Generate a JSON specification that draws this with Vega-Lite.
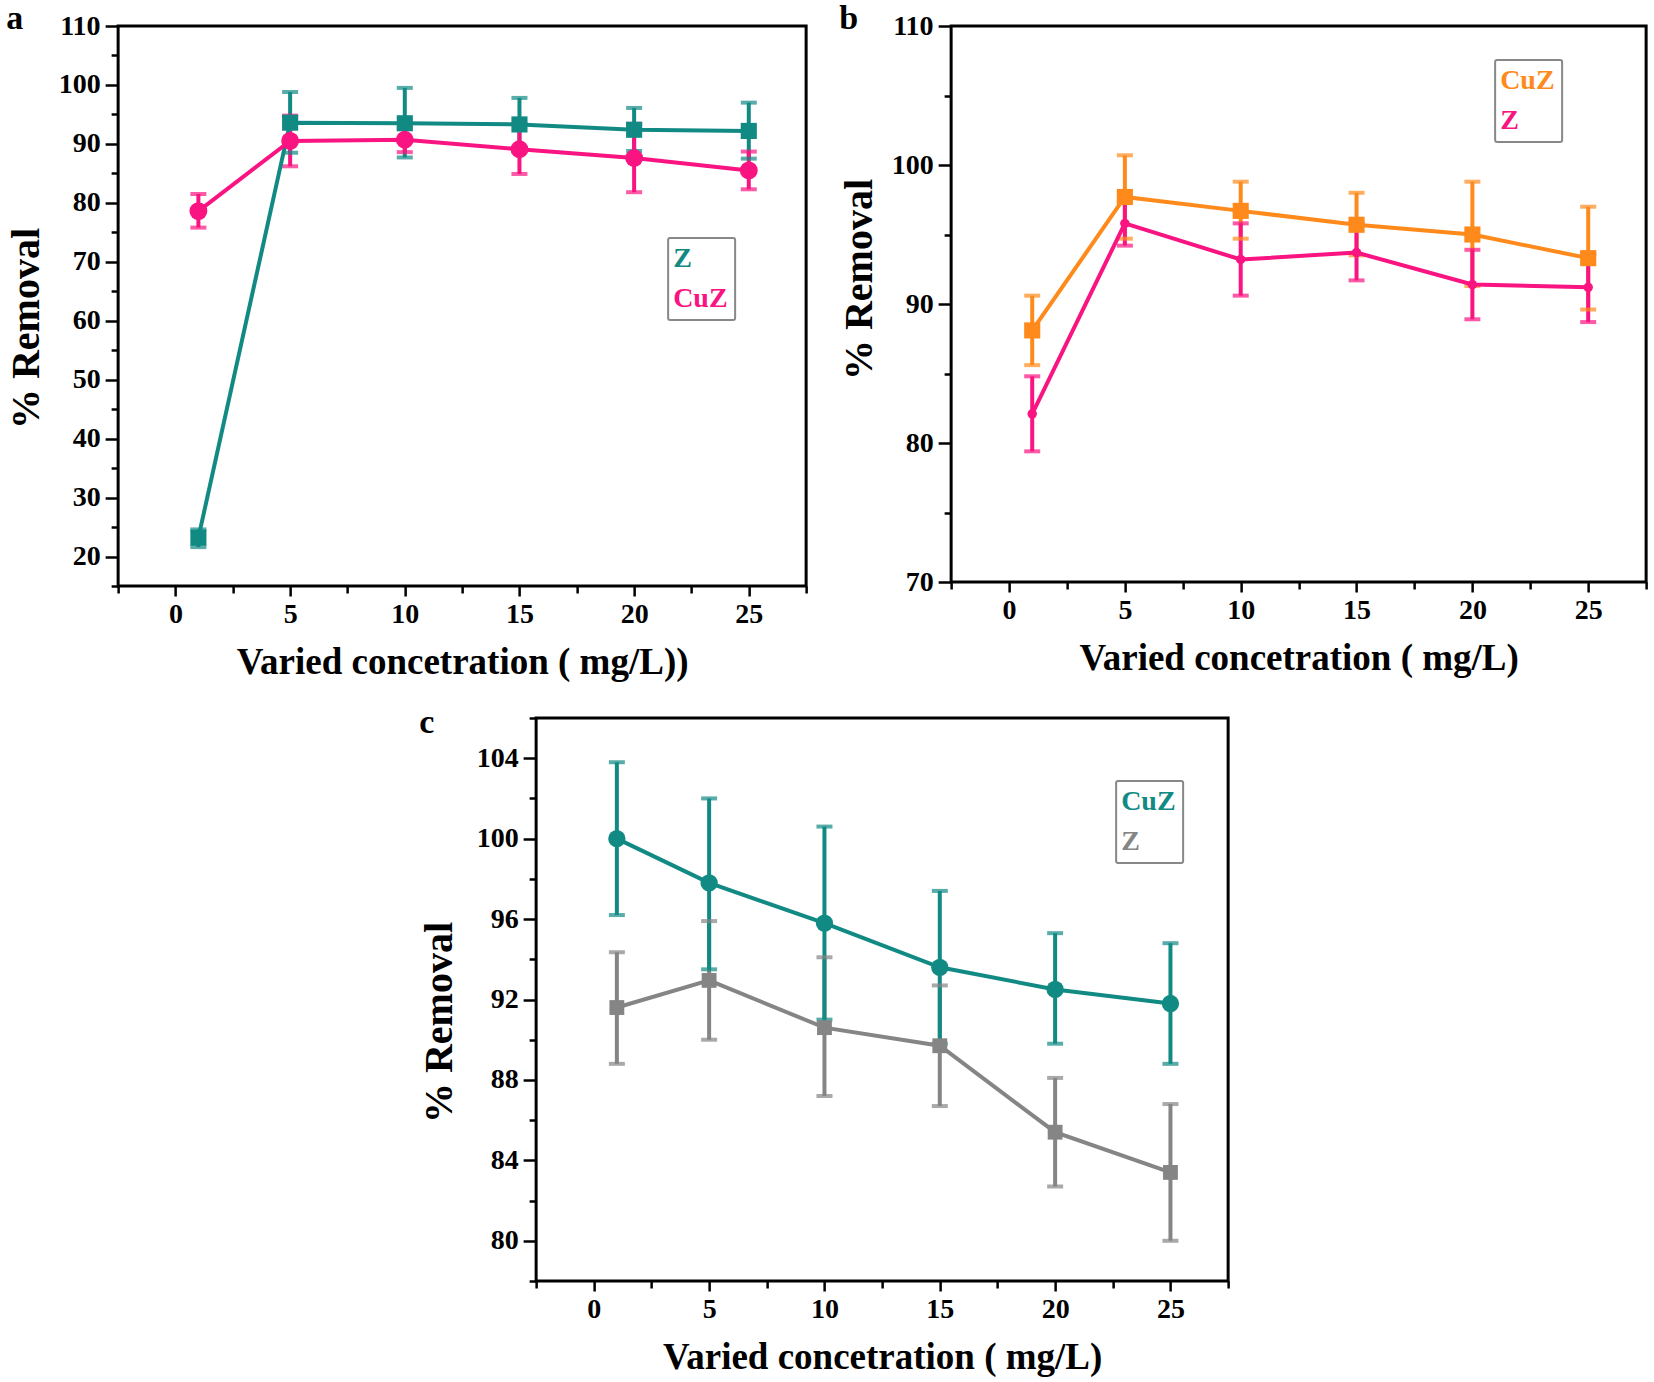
{
  "$schema": "https://vega.github.io/schema/vega-lite/v6.json",
  "padding": {"left": 4, "top": 0, "right": 0, "bottom": 0},
  "background": "white",
  "datasets": {
    "a": [
      {"x": 1, "s": "Z", "y": 23.2, "lo": 21.6, "hi": 24.6},
      {"x": 5, "s": "Z", "y": 93.6, "lo": 88.5, "hi": 98.8},
      {"x": 10, "s": "Z", "y": 93.5, "lo": 87.7, "hi": 99.5},
      {"x": 15, "s": "Z", "y": 93.3, "lo": 88.9, "hi": 97.8},
      {"x": 20, "s": "Z", "y": 92.4, "lo": 88.8, "hi": 96.1},
      {"x": 25, "s": "Z", "y": 92.2, "lo": 87.5, "hi": 97.0},
      {"x": 1, "s": "CuZ", "y": 78.6, "lo": 75.8, "hi": 81.5},
      {"x": 5, "s": "CuZ", "y": 90.5, "lo": 86.2, "hi": 94.8},
      {"x": 10, "s": "CuZ", "y": 90.7, "lo": 88.6, "hi": 92.6},
      {"x": 15, "s": "CuZ", "y": 89.1, "lo": 84.9, "hi": 93.4},
      {"x": 20, "s": "CuZ", "y": 87.6, "lo": 81.8, "hi": 93.4},
      {"x": 25, "s": "CuZ", "y": 85.5, "lo": 82.3, "hi": 88.7}
    ],
    "b": [
      {"x": 1, "s": "CuZ", "y": 88.1, "lo": 85.6, "hi": 90.6},
      {"x": 5, "s": "CuZ", "y": 97.7, "lo": 94.7, "hi": 100.7},
      {"x": 10, "s": "CuZ", "y": 96.7, "lo": 94.7, "hi": 98.8},
      {"x": 15, "s": "CuZ", "y": 95.7, "lo": 93.5, "hi": 98.0},
      {"x": 20, "s": "CuZ", "y": 95.0, "lo": 91.3, "hi": 98.8},
      {"x": 25, "s": "CuZ", "y": 93.3, "lo": 89.6, "hi": 97.0},
      {"x": 1, "s": "Z", "y": 82.1, "lo": 79.4, "hi": 84.8},
      {"x": 5, "s": "Z", "y": 95.8, "lo": 94.2, "hi": 97.4},
      {"x": 10, "s": "Z", "y": 93.2, "lo": 90.6, "hi": 95.8},
      {"x": 15, "s": "Z", "y": 93.7, "lo": 91.7, "hi": 95.8},
      {"x": 20, "s": "Z", "y": 91.4, "lo": 88.9, "hi": 93.9},
      {"x": 25, "s": "Z", "y": 91.2, "lo": 88.7, "hi": 93.6}
    ],
    "c": [
      {"x": 1, "s": "Z", "y": 91.6, "lo": 88.8, "hi": 94.35},
      {"x": 5, "s": "Z", "y": 92.95, "lo": 90.0, "hi": 95.9},
      {"x": 10, "s": "Z", "y": 90.6, "lo": 87.2, "hi": 94.1},
      {"x": 15, "s": "Z", "y": 89.7, "lo": 86.7, "hi": 92.7},
      {"x": 20, "s": "Z", "y": 85.4, "lo": 82.7, "hi": 88.1},
      {"x": 25, "s": "Z", "y": 83.4, "lo": 80.0, "hi": 86.8},
      {"x": 1, "s": "CuZ", "y": 100.0, "lo": 96.2, "hi": 103.8},
      {"x": 5, "s": "CuZ", "y": 97.8, "lo": 93.5, "hi": 102.0},
      {"x": 10, "s": "CuZ", "y": 95.8, "lo": 91.0, "hi": 100.6},
      {"x": 15, "s": "CuZ", "y": 93.6, "lo": 89.8, "hi": 97.4},
      {"x": 20, "s": "CuZ", "y": 92.5, "lo": 89.8, "hi": 95.3},
      {"x": 25, "s": "CuZ", "y": 91.8, "lo": 88.8, "hi": 94.8}
    ]
  },
  "config": {
    "font": "Liberation Serif",
    "view": {"stroke": "black", "strokeWidth": 3},
    "axis": {
      "domain": false, "grid": false,
      "labelFont": "Liberation Serif", "labelFontSize": 28, "labelFontWeight": "bold", "labelColor": "black",
      "titleFont": "Liberation Serif", "titleFontSize": 40, "titleFontWeight": "bold", "titleColor": "black",
      "tickColor": "black", "tickWidth": 2.5,
      "labelOverlap": false, "labelFlush": false, "labelBound": false
    },
    "axisX": {"labelPadding": 4, "titlePadding": 16, "titleFontSize": 37},
    "axisY": {"labelPadding": 5, "titlePadding": 12},
    "legend": {
      "title": null, "symbolSize": 0, "symbolStrokeWidth": 0, "symbolOpacity": 0, "labelOffset": -30,
      "labelFont": "Liberation Serif", "labelFontSize": 28, "labelFontWeight": "bold",
      "padding": 7, "rowPadding": 12, "strokeColor": "#888888", "cornerRadius": 2
    },
    "title": {"font": "Liberation Serif", "fontSize": 34, "fontWeight": "bold", "color": "black", "anchor": "start", "frame": "bounds", "baseline": "alphabetic", "offset": -24}
  },
  "resolve": {"scale": {"color": "independent"}, "legend": {"color": "independent"}},
  "vconcat": [
    {
      "resolve": {"scale": {"color": "independent"}, "legend": {"color": "independent"}},
      "hconcat": [
        {
          "width": 688, "height": 560,
          "title": {"text": "a"},
          "data": {"name": "a"},
          "encoding": {
            "x": {"field": "x", "type": "quantitative", "title": "Varied concetration ( mg/L))",
              "scale": {"domain": [-2.5, 27.5], "nice": false, "zero": false},
              "axis": {"values": [-2.5, 0, 2.5, 5, 7.5, 10, 12.5, 15, 17.5, 20, 22.5, 25, 27.5],
                "labelExpr": "datum.value % 5 === 0 ? datum.label : ''",
                "tickSize": {"condition": {"test": "datum.value % 5 === 0", "value": 10}, "value": 7}}},
            "color": {"field": "s", "type": "nominal",
              "scale": {"domain": ["Z", "CuZ"], "range": ["#128a84", "#f91482"]},
              "legend": {"orient": "none", "legendX": 550, "legendY": 212, "symbolSize": 0, "labelOffset": -30,
                "encode": {"labels": {"update": {"fill": {"signal": "datum.value === 'Z' ? '#128a84' : '#f91482'"}}},
                           "symbols": {"update": {"size": {"value": 0}}},
                           "legend": {"update": {"strokeWidth": {"value": 2}}}}}},
            "y": {"field": "y", "type": "quantitative", "title": "% Removal",
              "scale": {"domain": [15, 110], "nice": false, "zero": false},
              "axis": {"values": [15, 20, 25, 30, 35, 40, 45, 50, 55, 60, 65, 70, 75, 80, 85, 90, 95, 100, 105, 110],
                "titleY": 302,
                "labelExpr": "datum.value % 10 === 0 ? datum.label : ''",
                "tickSize": {"condition": {"test": "datum.value % 10 === 0", "value": 13}, "value": 7}}}
          },
          "layer": [
            {"mark": {"type": "rule", "strokeWidth": 4},
             "encoding": {"y": {"field": "lo", "type": "quantitative", "title": "% Removal"}, "y2": {"field": "hi"}}},
            {"mark": {"type": "tick", "orient": "horizontal", "thickness": 4, "size": 16},
             "encoding": {"y": {"field": "lo", "type": "quantitative", "title": "% Removal"}}},
            {"mark": {"type": "tick", "orient": "horizontal", "thickness": 4, "size": 16},
             "encoding": {"y": {"field": "hi", "type": "quantitative", "title": "% Removal"}}},
            {"mark": {"type": "line", "strokeWidth": 4}},
            {"transform": [{"filter": "datum.s === 'Z'"}],
             "mark": {"type": "point", "filled": true, "opacity": 1, "shape": "square"},
             "encoding": {"size": {"value": 260}}},
            {"transform": [{"filter": "datum.s === 'CuZ'"}],
             "mark": {"type": "point", "filled": true, "opacity": 1, "shape": "circle"},
             "encoding": {"size": {"value": 320}}}
          ]
        },
        {
          "width": 695, "height": 556,
          "title": {"text": "b"},
          "data": {"name": "b"},
          "encoding": {
            "x": {"field": "x", "type": "quantitative", "title": "Varied concetration ( mg/L)",
              "scale": {"domain": [-2.5, 27.5], "nice": false, "zero": false},
              "axis": {"values": [-2.5, 0, 2.5, 5, 7.5, 10, 12.5, 15, 17.5, 20, 22.5, 25, 27.5],
                "labelExpr": "datum.value % 5 === 0 ? datum.label : ''",
                "tickSize": {"condition": {"test": "datum.value % 5 === 0", "value": 10}, "value": 7}}},
            "color": {"field": "s", "type": "nominal",
              "scale": {"domain": ["CuZ", "Z"], "range": ["#ff8a1c", "#f91482"]},
              "legend": {"orient": "none", "legendX": 544, "legendY": 34, "symbolSize": 0, "labelOffset": -30,
                "encode": {"labels": {"update": {"fill": {"signal": "datum.value === 'Z' ? '#f91482' : '#ff8a1c'"}}},
                           "symbols": {"update": {"size": {"value": 0}}},
                           "legend": {"update": {"strokeWidth": {"value": 2}}}}}},
            "y": {"field": "y", "type": "quantitative", "title": "% Removal",
              "scale": {"domain": [70, 110], "nice": false, "zero": false},
              "axis": {"values": [70, 75, 80, 85, 90, 95, 100, 105, 110],
                "titleY": 253,
                "labelExpr": "datum.value % 10 === 0 ? datum.label : ''",
                "tickSize": {"condition": {"test": "datum.value % 10 === 0", "value": 13}, "value": 7}}}
          },
          "layer": [
            {"mark": {"type": "rule", "strokeWidth": 4},
             "encoding": {"y": {"field": "lo", "type": "quantitative", "title": "% Removal"}, "y2": {"field": "hi"}}},
            {"mark": {"type": "tick", "orient": "horizontal", "thickness": 4, "size": 16},
             "encoding": {"y": {"field": "lo", "type": "quantitative", "title": "% Removal"}}},
            {"mark": {"type": "tick", "orient": "horizontal", "thickness": 4, "size": 16},
             "encoding": {"y": {"field": "hi", "type": "quantitative", "title": "% Removal"}}},
            {"mark": {"type": "line", "strokeWidth": 4}},
            {"transform": [{"filter": "datum.s === 'CuZ'"}],
             "mark": {"type": "point", "filled": true, "opacity": 1, "shape": "square"},
             "encoding": {"size": {"value": 260}}},
            {"transform": [{"filter": "datum.s === 'Z'"}],
             "mark": {"type": "point", "filled": true, "opacity": 1, "shape": "circle"},
             "encoding": {"size": {"value": 90}}}
          ]
        }
      ],
      "spacing": 28
    },
    {
      "width": 692, "height": 563,
      "title": {"text": "c", "offset": -36},
      "data": {"name": "c"},
      "encoding": {
        "x": {"field": "x", "type": "quantitative", "title": "Varied concetration ( mg/L)",
          "scale": {"domain": [-2.5, 27.5], "nice": false, "zero": false},
          "axis": {"values": [-2.5, 0, 2.5, 5, 7.5, 10, 12.5, 15, 17.5, 20, 22.5, 25, 27.5],
            "labelExpr": "datum.value % 5 === 0 ? datum.label : ''",
            "tickSize": {"condition": {"test": "datum.value % 5 === 0", "value": 10}, "value": 7}}},
        "color": {"field": "s", "type": "nominal",
          "scale": {"domain": ["CuZ", "Z"], "range": ["#128a84", "#858585"]},
          "legend": {"orient": "none", "legendX": 580, "legendY": 63, "symbolSize": 0, "labelOffset": -30,
            "encode": {"labels": {"update": {"fill": {"signal": "datum.value === 'Z' ? '#858585' : '#128a84'"}}},
                       "symbols": {"update": {"size": {"value": 0}}},
                       "legend": {"update": {"strokeWidth": {"value": 2}}}}}},
        "y": {"field": "y", "type": "quantitative", "title": "% Removal",
          "scale": {"domain": [78, 106], "nice": false, "zero": false},
          "axis": {"values": [78, 80, 82, 84, 86, 88, 90, 92, 94, 96, 98, 100, 102, 104, 106],
            "titlePadding": 17, "titleY": 304,
            "labelExpr": "datum.value % 4 === 0 ? datum.label : ''",
            "tickSize": {"condition": {"test": "datum.value % 4 === 0", "value": 13}, "value": 7}}}
      },
      "layer": [
        {"mark": {"type": "rule", "strokeWidth": 4},
         "encoding": {"y": {"field": "lo", "type": "quantitative", "title": "% Removal"}, "y2": {"field": "hi"}}},
        {"mark": {"type": "tick", "orient": "horizontal", "thickness": 4, "size": 16},
         "encoding": {"y": {"field": "lo", "type": "quantitative", "title": "% Removal"}}},
        {"mark": {"type": "tick", "orient": "horizontal", "thickness": 4, "size": 16},
         "encoding": {"y": {"field": "hi", "type": "quantitative", "title": "% Removal"}}},
        {"mark": {"type": "line", "strokeWidth": 4}},
        {"transform": [{"filter": "datum.s === 'Z'"}],
         "mark": {"type": "point", "filled": true, "opacity": 1, "shape": "square"},
         "encoding": {"size": {"value": 220}}},
        {"transform": [{"filter": "datum.s === 'CuZ'"}],
         "mark": {"type": "point", "filled": true, "opacity": 1, "shape": "circle"},
         "encoding": {"size": {"value": 300}}}
      ]
    }
  ],
  "center": true,
  "spacing": 20
}
